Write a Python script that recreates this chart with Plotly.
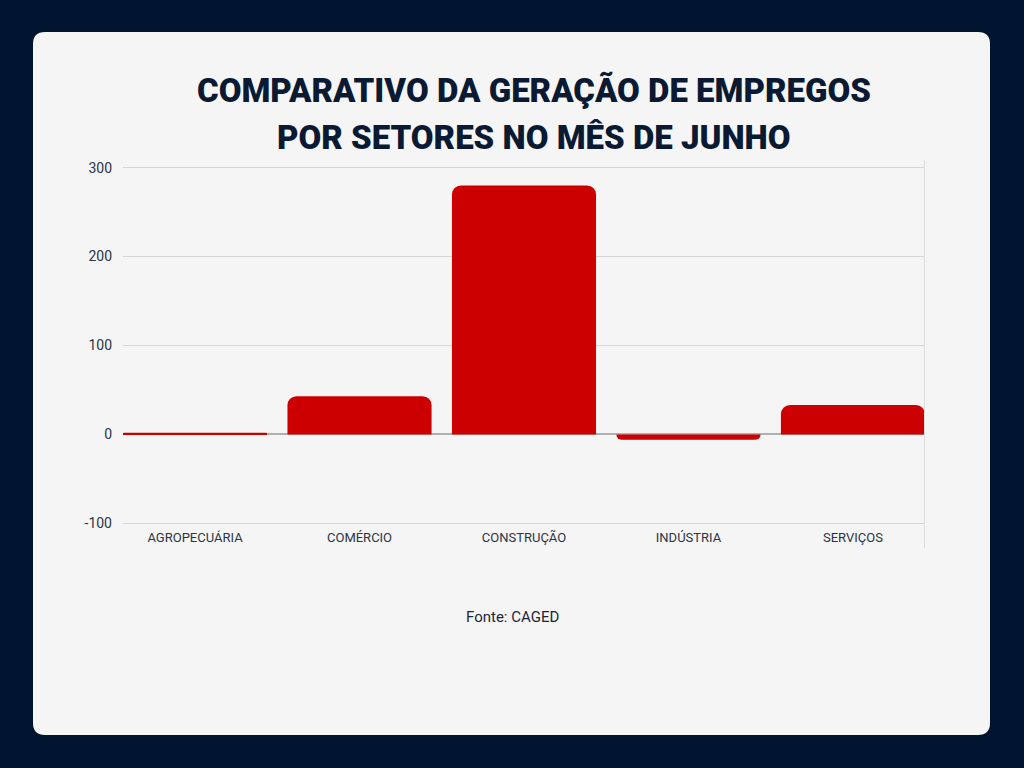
import plotly.graph_objects as go

# dados (saldo de empregos por setor, junho)
setores = ["AGROPECUÁRIA", "COMÉRCIO", "CONSTRUÇÃO", "INDÚSTRIA", "SERVIÇOS"]
saldo = [2, 43, 280, -6, 33]
y_ticks = [-100, 0, 100, 200, 300]
y_labels = ["-100", "0", "100", "200", "300"]

NAVY = "#011530"
CARD = "#f5f5f5"
RED = "#cc0000"

# the page puts the figure 8px in from the corner, so take that off
OFF = 8
W, H = 1024, 768
PAD = 3  # y units of headroom so the -100 / 300 gridlines are not on the edge
ppu = (523 - 168) / 400
L, T = 123 - OFF, round(168 - OFF - PAD * ppu)
R, B = W - (925 - OFF), round(H - (523 - OFF + PAD * ppu))
PW, PH = W - L - R, H - T - B


def px_x(x):
    return (x - OFF - L) / PW


def px_y(y):
    return 1 - (y - OFF - T) / PH


def rounded_rect(x0, y0, x1, y1, r):
    # path in paper coords, built from pixel positions
    rx, ry = r / PW, r / PH
    a, b, c, d = px_x(x0), px_y(y0), px_x(x1), px_y(y1)
    return (
        f"M {a + rx},{b} L {c - rx},{b} Q {c},{b} {c},{b - ry} "
        f"L {c},{d + ry} Q {c},{d} {c - rx},{d} "
        f"L {a + rx},{d} Q {a},{d} {a},{d + ry} "
        f"L {a},{b - ry} Q {a},{b} {a + rx},{b} Z"
    )


fig = go.Figure()
fig.add_trace(
    go.Bar(
        x=setores,
        y=saldo,
        marker=dict(color=RED, cornerradius=9, line=dict(width=0)),
        hoverinfo="x+y",
    )
)

title_font = dict(family="Roboto, sans-serif", size=33, color="#0b1a33", weight=900)
title_lines = [
    ("COMPARATIVO DA GERAÇÃO DE EMPREGOS", 90),
    ("POR SETORES NO MÊS DE JUNHO", 137),
]
annotations = [
    dict(
        text=txt,
        xref="paper",
        yref="paper",
        x=px_x(534),
        y=px_y(yy),
        xanchor="center",
        yanchor="middle",
        showarrow=False,
        font=title_font,
    )
    for txt, yy in title_lines
]
annotations.append(
    dict(
        text="Fonte: CAGED",
        xref="paper",
        yref="paper",
        x=px_x(512),
        y=px_y(617),
        xanchor="center",
        yanchor="middle",
        showarrow=False,
        font=dict(family="Roboto, sans-serif", size=15, color="#1c2538"),
    )
)

gap = 0.124
fig.update_layout(
    width=W,
    height=H,
    margin=dict(l=L, r=R, t=T, b=B),
    paper_bgcolor=NAVY,
    plot_bgcolor=CARD,
    bargap=gap,
    showlegend=False,
    font=dict(family="Roboto, sans-serif", color="#2a3446"),
    shapes=[
        dict(
            type="path",
            xref="paper",
            yref="paper",
            path=rounded_rect(33, 32, 990, 735, 12),
            fillcolor=CARD,
            line=dict(width=0),
            layer="below",
        ),
        dict(
            type="line",
            xref="paper",
            yref="paper",
            x0=px_x(924.5),
            x1=px_x(924.5),
            y0=px_y(160),
            y1=px_y(548),
            line=dict(color="#dddddd", width=1),
        ),
    ],
    annotations=annotations,
)

fig.update_xaxes(
    range=[-0.5 + gap / 2, 4.5 - gap / 2],
    showgrid=False,
    showline=False,
    ticks="",
    ticklabelstandoff=round(5 - PAD * ppu),
    tickfont=dict(size=13, color="#2a3446"),
)
fig.update_yaxes(
    range=[-100 - PAD, 300 + PAD],
    tickvals=y_ticks,
    ticktext=y_labels,
    showgrid=True,
    gridcolor="#d6d6d6",
    gridwidth=1,
    zeroline=True,
    zerolinecolor="#b0b0b0",
    zerolinewidth=1.5,
    ticks="",
    ticklabelstandoff=10,
    tickfont=dict(size=14, color="#2a3446"),
)

# page margin would otherwise leave a white strip round the figure
fig.write_html("out.html", post_script="document.body.style.background='#011530';")
